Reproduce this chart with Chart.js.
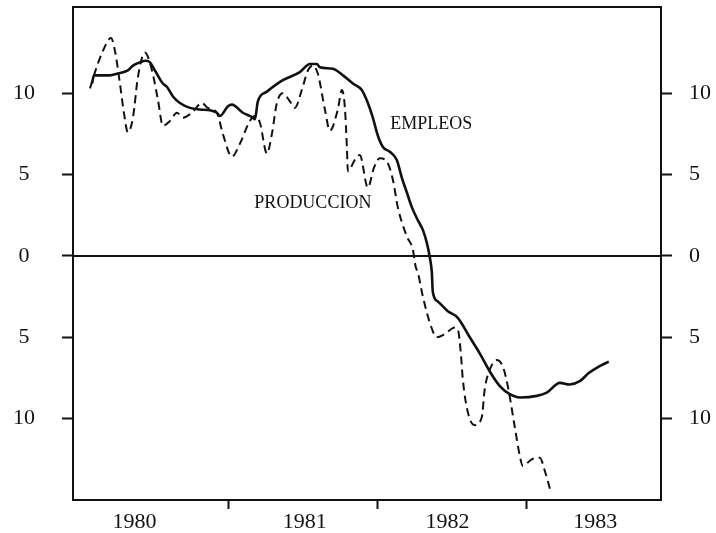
<!DOCTYPE html>
<html><head><meta charset="utf-8">
<script src="https://cdn.jsdelivr.net/npm/chart.js@4"></script>
<style>html,body{margin:0;padding:0;background:#fff;} #wrap{width:716px;height:533px;}</style>
</head><body><div id="wrap"><canvas id="c" width="716" height="533"></canvas></div>
<script>
// months since January 1980
const empleosMonths = [0.97,1.13,2.42,2.98,3.86,4.27,4.83,5.31,5.64,6.04,6.68,7.0,7.49,8.05,8.86,9.66,10.47,11.03,11.27,11.92,12.24,13.12,13.93,14.09,14.33,15.06,16.34,17.71,18.52,19.08,19.32,20.37,21.18,21.98,22.7,23.19,23.59,23.99,24.4,24.96,25.52,25.93,26.33,26.73,27.21,27.62,27.94,28.18,28.34,28.42,28.82,29.63,30.43,31.4,32.21,33.01,33.82,34.62,35.43,36.8,37.6,38.65,39.45,40.26,40.98,41.79,42.59];
const empleosValues = [10.6,11.1,11.1,11.2,11.4,11.7,11.9,12.0,11.9,11.4,10.6,10.4,9.8,9.4,9.1,9.0,8.95,8.8,8.6,9.2,9.3,8.8,8.5,8.4,9.5,10.1,10.8,11.3,11.8,11.8,11.6,11.5,11.1,10.6,10.2,9.4,8.5,7.4,6.7,6.4,5.9,4.8,3.9,3.0,2.2,1.6,0.8,-0.1,-1.0,-2.2,-2.8,-3.4,-3.8,-5.0,-6.0,-7.1,-8.0,-8.5,-8.7,-8.6,-8.4,-7.8,-7.9,-7.7,-7.2,-6.8,-6.5];
const produccionMonths = [0.81,1.21,1.85,2.5,2.82,3.22,3.54,3.86,4.27,4.67,5.23,5.8,6.28,6.68,7.25,7.81,8.29,9.02,9.82,10.3,11.03,11.51,12.24,12.88,13.69,14.09,14.49,15.06,15.46,15.86,16.34,16.91,17.31,17.87,18.36,18.76,19.16,19.73,20.13,20.77,21.1,21.34,21.5,21.58,22.14,22.54,23.19,23.67,24.15,24.72,25.2,25.6,26.33,26.81,27.05,27.21,27.62,28.18,28.74,29.39,30.19,30.43,30.68,30.84,31.24,31.8,32.37,32.6,33.0,33.57,34.06,34.46,35.02,35.43,35.67,36.39,37.04,37.44,37.92];
const produccionValues = [10.3,11.3,12.6,13.4,12.6,10.6,8.8,7.6,8.5,11.0,12.5,11.4,9.6,8.0,8.3,8.8,8.5,8.8,9.4,9.1,8.8,7.5,6.1,6.9,8.3,8.6,8.2,6.3,7.5,9.4,10.0,9.5,9.1,10.2,11.4,11.7,11.2,9.0,7.7,9.0,10.2,9.1,6.7,5.2,5.9,6.2,4.2,5.4,6.0,5.8,4.7,3.0,1.2,0.4,-0.7,-1.0,-2.5,-4.1,-5.0,-4.8,-4.4,-4.5,-6.0,-7.6,-9.6,-10.4,-9.9,-8.2,-7.0,-6.4,-6.8,-8.0,-10.5,-12.3,-12.9,-12.5,-12.4,-13.2,-14.5];
const yearLabels = ['1980','1981','1982','1983'];
const yearLabelMonths = [4.4, 18.1, 29.6, 41.5];
const yearBoundaryMonths = [12, 24, 36];
const yTickValues = [-10, -5, 0, 5, 10];

const FONT = '"Liberation Serif", "DejaVu Serif", serif';
const INK = '#111';

const frame = {
  id: 'frame',
  beforeDatasetsDraw(chart) {
    const {ctx, chartArea: a, scales} = chart;
    const y0 = scales.y.getPixelForValue(0);
    ctx.save();
    ctx.strokeStyle = INK;
    ctx.lineWidth = 2;
    ctx.beginPath();
    ctx.moveTo(a.left - 1, a.top); ctx.lineTo(a.right + 1, a.top);
    ctx.moveTo(a.left, y0); ctx.lineTo(a.right, y0);
    ctx.stroke();
    ctx.restore();
  },
  afterDatasetsDraw(chart) {
    const {ctx, scales} = chart;
    ctx.save();
    ctx.fillStyle = INK;
    ctx.font = '18px ' + FONT;
    ctx.textAlign = 'center';
    ctx.textBaseline = 'middle';
    ctx.fillText('EMPLEOS', scales.x.getPixelForValue(28.3), scales.y.getPixelForValue(8.1));
    ctx.fillText('PRODUCCION', scales.x.getPixelForValue(18.76), scales.y.getPixelForValue(3.25));
    ctx.restore();
  }
};

const yTicksBuild = s => { s.ticks = yTickValues.map(v => ({value: v})); };
const yCommon = {
  type: 'linear', min: -15, max: 15.3,
  afterBuildTicks: yTicksBuild,
  grid: {drawOnChartArea: false, drawTicks: true, tickLength: 11, tickWidth: 2, tickColor: INK},
  border: {display: true, width: 2, color: INK}
};

new Chart(document.getElementById('c'), {
  type: 'line',
  data: {
    datasets: [
      {
        label: 'EMPLEOS',
        data: empleosMonths.map((m, i) => ({x: m, y: empleosValues[i]})),
        borderColor: INK, borderWidth: 2.6, pointRadius: 0, fill: false,
        cubicInterpolationMode: 'monotone'
      },
      {
        label: 'PRODUCCION',
        data: produccionMonths.map((m, i) => ({x: m, y: produccionValues[i]})),
        borderColor: INK, borderWidth: 2, borderDash: [8, 5], pointRadius: 0, fill: false,
        cubicInterpolationMode: 'monotone'
      }
    ]
  },
  options: {
    responsive: false, devicePixelRatio: 1, animation: false,
    layout: {padding: {top: 7, left: 0, right: 0, bottom: 0}},
    plugins: {legend: {display: false}, tooltip: {enabled: false}},
    scales: {
      x: {
        type: 'linear', position: 'bottom', min: -0.56, max: 46.8,
        afterFit: s => { s.height = 33; s.paddingLeft = 0; s.paddingRight = 0; },
        afterBuildTicks: s => {
          s.ticks = [...yearBoundaryMonths, ...yearLabelMonths].sort((a, b) => a - b).map(v => ({value: v}));
        },
        ticks: {
          autoSkip: false, maxRotation: 0, minRotation: 0, padding: 0,
          color: INK, font: {family: FONT, size: 22},
          callback: v => { const i = yearLabelMonths.indexOf(v); return i >= 0 ? yearLabels[i] : ''; }
        },
        grid: {
          drawOnChartArea: false, drawTicks: true, tickLength: 9, tickWidth: 2,
          tickColor: c => yearBoundaryMonths.includes(c.tick && c.tick.value) ? INK : 'rgba(0,0,0,0)'
        },
        border: {display: true, width: 2, color: INK}
      },
      y: Object.assign({}, yCommon, {
        position: 'left',
        afterFit: s => { s.width = 73; s.paddingTop = 0; s.paddingBottom = 0; },
        ticks: {padding: 27, crossAlign: 'center', color: INK, font: {family: FONT, size: 22},
          callback: v => String(Math.abs(v))}
      }),
      y2: Object.assign({}, yCommon, {
        position: 'right',
        afterFit: s => { s.width = 55; s.paddingTop = 0; s.paddingBottom = 0; },
        ticks: {padding: 17, crossAlign: 'near', color: INK, font: {family: FONT, size: 22},
          callback: v => String(Math.abs(v))}
      })
    }
  },
  plugins: [frame]
});
</script>
</body></html>
